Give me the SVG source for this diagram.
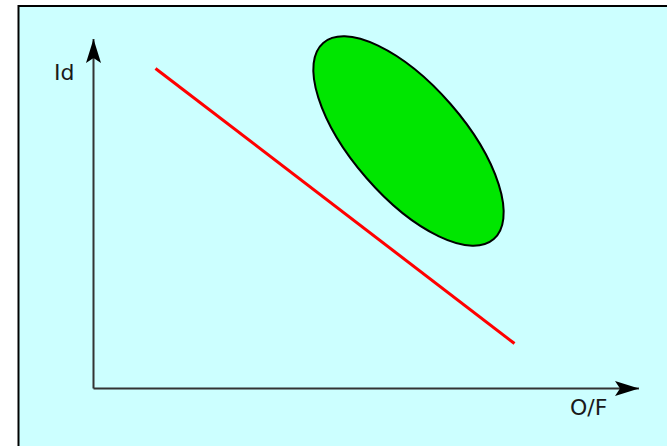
<svg xmlns="http://www.w3.org/2000/svg" width="667" height="446" viewBox="0 0 667 446">
  <defs>
    <marker id="arr" markerUnits="userSpaceOnUse" markerWidth="26" markerHeight="18" refX="24" refY="8" orient="auto" viewBox="0 0 26 16">
      <path d="M24,8 L0,0.5 L5,8 L0,15.5 Z" fill="#000"/>
    </marker>
    <style>
      .axis { stroke: #333; stroke-width: 2; fill: none; }
      .lbl { font-family: "DejaVu Sans", sans-serif; font-size: 22px; fill: #1a1a1a; }
    </style>
  </defs>
  <rect x="0" y="0" width="667" height="446" fill="#fff"/>
  <rect x="18.5" y="6" width="660" height="450" fill="#ccffff" stroke="#000" stroke-width="2"/>
  <g id="connectors">
    <path class="axis" d="M93.5,388.5 V39" marker-end="url(#arr)"/>
    <path class="axis" d="M93.5,388.5 H639" marker-end="url(#arr)"/>
    <line x1="155.5" y1="68.5" x2="514.5" y2="343.5" stroke="#ff0000" stroke-width="3"/>
  </g>
  <g id="region">
    <ellipse cx="408.5" cy="141" rx="130" ry="56" transform="rotate(49 408.5 141)" fill="#00e600" stroke="#000" stroke-width="2"/>
  </g>
  <g id="label-id"><text class="lbl" x="54" y="80" font-size="22">Id</text></g>
  <g id="label-of"><text class="lbl" x="570" y="415" font-size="22">O/F</text></g>
</svg>
